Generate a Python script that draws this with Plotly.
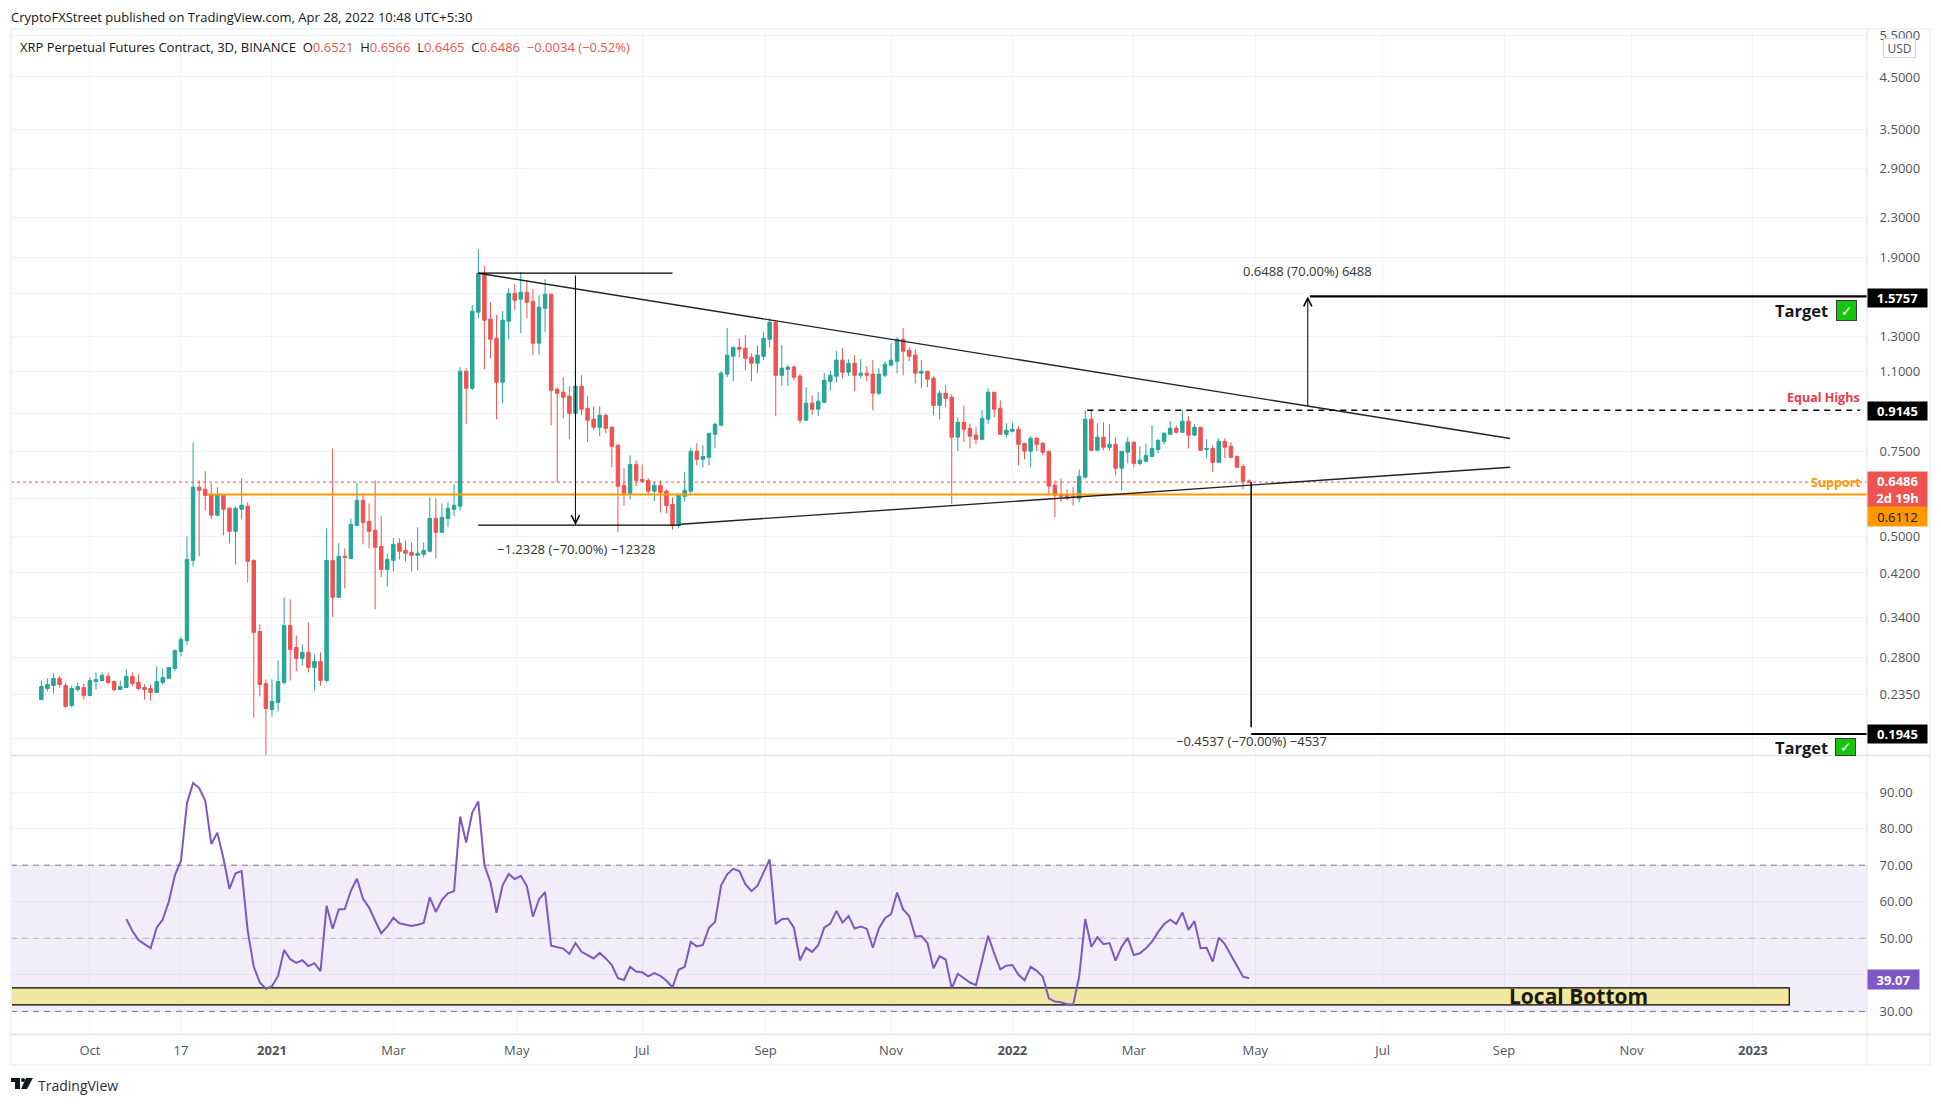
import math
import pandas as pd
import plotly.graph_objects as go

W, H = 1941, 1104
FONT = "Open Sans"

# 3D candles, oldest first
first_bar = "2020-09-08"
opens = [
    .2294,.2418,.2453,.2537,.2453,.2229,.2406,.2429,.2339,.2500,
    .2512,.2562,.2500,.2406,.2429,.2562,.2488,.2429,.2418,.2372,
    .2488,.2537,.2661,.2886,.3042,.4461,.6327,.6266,.6117,.5533,
    .6088,.5722,.5125,.5694,.5778,.4461,.3176,.2476,.2187,.2261,
    .2488,.3268,.2942,.2792,.2872,.2674,.2752,.2512,.4461,.3738,
    .4548,.4504,.5275,.5945,.5375,.515,.4771,.4273,.4461,.4839,
    .468,.4636,.457,.4592,.4658,.5454,.5101,.5454,.5694,.5778,
    1.1019,1.016,1.461,1.761,1.4132,1.2904,1.0455,1.4,1.6,1.555,
    1.608,1.54,1.26,1.489,1.593,1.011,.997,.978,.901,1.026,
    .923,.876,.843,.893,.843,.774,.639,.615,.706,.657,
    .654,.621,.639,.621,.583,.5275,.606,.621,.752,.723,
    .73,.815,.851,1.087,1.184,1.236,1.23,1.178,1.145,1.184,
    1.284,1.393,1.081,1.112,1.124,1.076,.872,.946,.919,.95,
    1.05,1.076,1.162,1.097,1.145,1.081,1.092,1.087,.992,1.081,
    1.134,1.156,1.284,1.218,1.19,1.092,1.102,1.066,.936,.992,
    .973,.804,.863,.839,.812,.796,.876,.997,.923,.815,
    .827,.835,.781,.752,.8,.781,.752,.639,.612,.609,
    .606,.6,.664,.876,.755,.804,.766,.777,.693,.748,
    .785,.709,.716,.733,.758,.788,.815,.839,.823,.868,
    .812,.843,.758,.762,.713,.788,.77,.733,.699,.6521,
]
highs = [
    .2512,.2537,.2599,.2562,.2488,.2453,.2488,.2476,.2549,.2611,
    .2611,.2611,.2512,.2512,.2649,.2611,.2586,.2464,.2464,.2687,
    .2661,.2674,.2914,.31,.5005,.7846,.6542,.683,.6449,.6327,
    .6088,.575,.5778,.6604,.589,.4482,.3283,.2525,.2525,.2765,
    .3738,.3701,.3115,.2984,.3316,.2845,.2872,.52,.7623,.4839,
    .4725,.5454,.648,.6117,.586,.6542,.5506,.4614,.4956,.4956,
    .4909,.4862,.5225,.4862,.6026,.5997,.586,.589,.6416,1.1235,
    1.118,1.512,1.975,1.821,1.533,1.441,1.4684,1.639,1.671,1.77,
    1.703,1.631,1.585,1.711,1.593,1.021,1.071,1.026,1.102,1.081,
    .978,.932,.932,.901,.847,.777,.693,.737,.72,.706,
    .66,.651,.654,.627,.603,.612,.68,.765,.781,.773,
    .819,.863,1.102,1.354,1.236,1.29,1.31,1.201,1.248,1.328,
    1.42,1.4065,1.248,1.134,1.134,1.087,1.021,.982,.997,1.092,
    1.107,1.213,1.23,1.167,1.19,1.167,1.129,1.162,1.118,1.156,
    1.26,1.297,1.354,1.236,1.224,1.162,1.102,1.076,1.006,1.031,
    .987,.884,.936,.859,.843,.9144,1.016,.997,.959,.859,
    .863,.847,.781,.808,.804,.785,.752,.654,.66,.627,
    .633,.689,.9144,.919,.859,.863,.855,.804,.752,.804,
    .788,.77,.781,.851,.796,.823,.868,.851,.9144,.889,
    .855,.843,.796,.773,.8,.8,.785,.737,.706,.6566,
]
lows = [
    .2294,.2384,.2361,.2429,.2208,.2208,.2384,.2294,.2328,.2406,
    .25,.2464,.2384,.2406,.2429,.2441,.2395,.2294,.2283,.2372,
    .2464,.2537,.2624,.2818,.2984,.4335,.4548,.5667,.5428,.5506,
    .5028,.4839,.4375,.5428,.4015,.2105,.2328,.1755,.2114,.2166,
    .2464,.2512,.2624,.27,.2611,.2395,.2453,.2488,.3397,.3738,
    .39,.4482,.525,.4816,.4725,.3529,.4115,.394,.4233,.4482,
    .444,.4233,.4253,.4526,.4636,.4504,.5101,.5225,.5506,.5667,
    .8552,1.0062,1.42,1.1125,1.173,.8759,.9456,1.2842,1.4754,1.321,
    1.42,1.19,1.19,1.328,.851,.648,.88,.796,.88,.894,
    .785,.831,.808,.819,.696,.51,.58,.597,.636,.648,
    .609,.592,.561,.559,.517,.52,.592,.615,.703,.696,
    .703,.762,.851,1.071,1.05,1.178,1.107,1.05,1.092,1.162,
    1.236,.889,1.026,1.026,1.0555,.859,.868,.894,.889,.946,
    1.006,1.045,1.066,1.076,1.001,1.066,1.05,.914,.982,1.071,
    1.134,1.092,1.081,1.156,1.04,1.016,1.021,.894,.876,.928,
    .583,.752,.785,.762,.777,.792,.855,.884,.812,.804,
    .823,.703,.723,.696,.752,.737,.612,.548,.589,.595,
    .58,.589,.66,.752,.752,.755,.755,.67,.624,.709,
    .696,.703,.713,.733,.744,.777,.815,.819,.823,.762,
    .808,.755,.727,.68,.713,.727,.727,.696,.627,.6465,
]
closes = [
    .2441,.2464,.2537,.2464,.2219,.2418,.2441,.2339,.2512,.2525,
    .2574,.2488,.2406,.2441,.2562,.2476,.2418,.2406,.2372,.25,
    .2549,.2674,.29,.3057,.4482,.6327,.6236,.6088,.5533,.6088,
    .5694,.5125,.5722,.5806,.444,.3161,.2464,.2197,.2272,.25,
    .3268,.2914,.2792,.2872,.2674,.2752,.2512,.4461,.3738,.4548,
    .4526,.5299,.5945,.5348,.5125,.4748,.4273,.4482,.4816,.4658,
    .4614,.457,.4614,.468,.5454,.5101,.548,.5722,.5806,1.1019,
    1.016,1.4684,1.761,1.4065,1.2842,1.0455,1.4065,1.6,1.5477,1.608,
    1.533,1.26,1.497,1.593,1.0062,.992,.973,.901,1.026,.919,
    .872,.843,.893,.839,.77,.636,.615,.706,.654,.651,
    .621,.639,.618,.58,.5275,.612,.624,.752,.723,.733,
    .819,.855,1.092,1.19,1.236,1.224,1.173,1.145,1.19,1.29,
    1.393,1.081,1.118,1.124,1.071,.872,.946,.919,.955,1.0555,
    1.081,1.162,1.097,1.145,1.081,1.092,1.081,.992,1.087,1.139,
    1.162,1.284,1.213,1.184,1.092,1.102,1.061,.936,.992,.968,
    .804,.863,.835,.808,.796,.88,.997,.919,.815,.831,
    .835,.777,.752,.8,.777,.748,.636,.609,.606,.6,
    .603,.667,.876,.755,.804,.766,.777,.693,.752,.785,
    .709,.72,.737,.762,.792,.819,.839,.823,.868,.812,
    .843,.755,.762,.713,.788,.766,.73,.696,.651,.6486,
]
# RSI starts on the 15th candle
rsi = [
    55.3,52.0,49.5,48.4,47.3,52.9,55.1,60.0,67.2,71.2,
    87.0,92.5,91.1,87.7,75.8,78.9,71.9,63.5,67.8,68.4,
    52.1,42.2,37.9,36.2,36.9,39.7,46.8,44.3,43.3,44.0,
    42.4,43.2,41.0,58.9,52.6,57.9,58.0,63.0,66.3,60.8,
    58.4,54.8,51.4,53.2,55.6,54.1,53.7,53.4,53.7,54.2,
    61.2,57.2,60.5,62.3,62.9,83.3,76.2,84.4,87.4,70.0,
    65.3,57.0,64.5,67.6,66.2,67.1,64.3,55.9,60.7,62.6,
    48.0,47.7,47.2,45.7,48.7,46.3,45.3,44.5,46.0,44.5,
    42.7,39.1,38.6,42.2,40.9,40.7,39.6,40.5,39.7,38.4,
    36.6,41.4,42.2,49.0,47.8,48.2,52.9,54.5,64.4,67.5,
    69.0,68.4,64.8,62.9,64.4,68.1,71.6,53.9,55.2,55.4,
    52.9,44.0,47.4,46.3,48.1,52.9,54.0,57.5,54.3,56.1,
    52.7,53.2,52.6,47.4,52.7,55.5,56.6,62.5,57.9,56.1,
    50.5,50.6,48.7,41.8,45.1,44.2,36.3,40.3,39.2,37.9,
    37.2,44.1,50.7,45.9,41.5,42.5,42.7,40.0,38.5,42.2,
    41.1,39.5,33.6,32.7,32.5,32.0,31.8,39.5,55.3,47.7,
    50.3,48.4,48.7,43.9,47.7,50.1,45.4,45.9,47.3,49.1,
    51.7,53.9,55.1,53.9,57.1,52.3,54.7,47.3,47.4,43.6,
    50.2,48.4,45.3,42.3,39.5,39.07,
]

price_ticks = [5.5, 4.5, 3.5, 2.9, 2.3, 1.9, 1.6, 1.3, 1.1, 0.9, 0.75, 0.6, 0.5, 0.42, 0.34, 0.28, 0.235, 0.19]
hidden_price_ticks = [1.6, 0.9, 0.6, 0.19]
rsi_ticks = [30, 40, 50, 60, 70, 80, 90]
hidden_rsi_ticks = [40]
date_ticks = ["2020-10-02", "2020-11-16", "2020-12-31", "2021-03-01", "2021-05-01", "2021-07-02", "2021-09-01",
              "2021-11-02", "2022-01-01", "2022-03-02", "2022-05-01", "2022-07-03", "2022-09-01", "2022-11-03", "2023-01-02"]
date_labels = ["Oct", "17", "<b>2021</b>", "Mar", "May", "Jul", "Sep", "Nov", "<b>2022</b>", "Mar", "May", "Jul", "Sep", "Nov", "<b>2023</b>"]

x_left, x_right = "2020-08-24", "2023-02-27 10:00"
last_price = 0.6486
support = 0.6112
equal_highs = 0.9145
target_up = 1.5757
target_down = 0.1945

GREEN, RED, PURPLE, ORANGE = "#26a69a", "#ef5350", "#7e57c2", "#ff9800"
GRID, BORDER, TEXT = "#f0f3fa", "#e0e3eb", "#131722"
AXIS_X = 1867


def px(x):
    return x / W


def py(y):
    return 1 - y / H


bar_dates = pd.date_range(first_bar, periods=len(closes), freq="3D")

fig = go.Figure()
fig.add_trace(go.Candlestick(
    x=bar_dates, open=opens, high=highs, low=lows, close=closes,
    increasing=dict(line=dict(color=GREEN, width=1), fillcolor=GREEN),
    decreasing=dict(line=dict(color=RED, width=1), fillcolor=RED),
    whiskerwidth=0, hoverinfo="skip", showlegend=False,
))


def line(x, y, color="black", width=1.3, dash="solid", yaxis="y"):
    fig.add_trace(go.Scatter(x=x, y=y, mode="lines", yaxis=yaxis, hoverinfo="skip", showlegend=False,
                             line=dict(color=color, width=width, dash=dash)))


line([x_left, x_right], [last_price, last_price], RED, 1, "dot")
line(["2020-11-29", x_right], [support, support], ORANGE, 2)
line(["2021-04-12", "2022-09-04"], [1.761, 0.799], "#222222", 1.4)
line(["2021-07-21", "2022-09-04"], [0.5302, 0.6962], "#222222", 1.4)
line(["2021-04-12", "2021-07-17"], [1.761, 1.761])
line(["2021-04-12", "2021-07-21"], [0.5282, 0.5282])
line(["2022-02-07", "2023-02-24"], [equal_highs, equal_highs], "black", 1.3, "6px,5px")
line(["2022-05-28", x_right], [target_up, target_up], "black", 2.2)
line(["2022-04-29", x_right], [target_down, target_down], "black", 2.2)
line(["2022-04-29", "2022-04-29"], [0.648, 0.2009], "black", 1.5)
line(bar_dates[14:], rsi, PURPLE, 2, yaxis="y2")

shapes = [
    dict(type="rect", xref="x", yref="y2", x0=x_left, x1=x_right, y0=30, y1=70, line_width=0,
         fillcolor="rgba(126,87,194,0.1)", layer="between"),
    dict(type="rect", xref="x", yref="y2", x0=x_left, x1="2023-01-20", y0=31.8, y1=36.45,
         fillcolor="#f3e6a0", line=dict(color="black", width=1.2), layer="between"),
]
for level, c in [(70, "#787b86"), (50, "#b2b5be"), (30, "#787b86")]:
    shapes.append(dict(type="line", xref="x", yref="y2", x0=x_left, x1=x_right, y0=level, y1=level,
                       line=dict(color=c, width=1, dash="6px,5px"), layer="between"))
# chart frame and pane borders
shapes.append(dict(type="rect", xref="paper", yref="paper", x0=px(11), x1=px(1930), y0=py(29), y1=py(1065),
                   line=dict(color=GRID, width=2), layer="above"))
for y in (755.5, 1034.6):
    shapes.append(dict(type="line", xref="paper", yref="paper", x0=px(11), x1=px(1930), y0=py(y), y1=py(y),
                       line=dict(color=BORDER, width=1.5), layer="above"))
shapes.append(dict(type="line", xref="paper", yref="paper", x0=px(AXIS_X), x1=px(AXIS_X), y0=py(30), y1=py(1065),
                   line=dict(color=BORDER, width=1), layer="above"))
# logo
shapes.append(dict(type="path", xref="paper", yref="paper", line_width=0, fillcolor="#131722", path=(
    f"M{px(11)},{py(1078)} L{px(20)},{py(1078)} L{px(20)},{py(1089)} L{px(15)},{py(1089)} L{px(15)},{py(1082)} L{px(11)},{py(1082)} Z "
    f"M{px(26)},{py(1078)} L{px(33)},{py(1078)} L{px(27)},{py(1089)} L{px(21)},{py(1089)} Z")))
shapes.append(dict(type="circle", xref="paper", yref="paper", line_width=0, fillcolor="#131722",
                   x0=px(21), x1=px(25), y0=py(1078), y1=py(1082)))

anns = []


def text(x, y, s, size=13, color=TEXT, anchor="left", bg=None, family=FONT):
    anns.append(dict(xref="paper", yref="paper", x=px(x), y=py(y), text=s, showarrow=False, xanchor=anchor,
                     yanchor="middle", font=dict(family=family, size=size, color=color), bgcolor=bg,
                     borderpad=0))


def badge(y, h, s, bg, fg="white", w=59, bold=True):
    anns.append(dict(xref="paper", yref="paper", x=px(AXIS_X), y=py(y), text=f"<b>{s}</b>" if bold else s, showarrow=False,
                     xanchor="left", yanchor="middle", width=w, height=h, align="center", valign="middle",
                     bgcolor=bg, borderpad=0, font=dict(family=FONT, size=13, color=fg)))


def check(x, y, h):
    anns.append(dict(xref="paper", yref="paper", x=px(x), y=py(y), text="<b>✓</b>", showarrow=False, xanchor="left",
                     yanchor="middle", width=19, height=h, align="center", valign="middle", bgcolor="#16c60c",
                     bordercolor="#3a3a3a", borderwidth=1, borderpad=0,
                     font=dict(family="DejaVu Sans", size=14, color="white")))


text(10, 17, "CryptoFXStreet published on TradingView.com, Apr 28, 2022 10:48 UTC+5:30", 13)
v = 'style="color:#ef5350"'
text(19, 47, f'XRP Perpetual Futures Contract, 3D, BINANCE  O<span {v}>0.6521</span>  H<span {v}>0.6566</span>  '
             f'L<span {v}>0.6465</span>  C<span {v}>0.6486</span>  <span {v}>−0.0034 (−0.52%)</span>', 13)
text(37, 1085, "TradingView", 14, "#2a2e39")
text(576, 549, "−1.2328 (−70.00%) −12328", 13, "#333333", "center", "white")
text(1307, 271, "0.6488 (70.00%) 6488", 13, "#333333", "center", "white")
text(1251, 741, "−0.4537 (−70.00%) −4537", 13, "#333333", "center")
text(1829, 310, "<b>Target</b>", 16.5, "#131722", "right")
text(1829, 747, "<b>Target</b>", 16.5, "#131722", "right")
check(1836, 310.5, 19)
check(1835, 747, 16)
text(1861, 398, "<b>Equal Highs</b>", 12.5, "#f23645", "right")
text(1862, 482, "<b>Support</b>", 12.5, ORANGE, "right")
text(1578, 996, "<b>Local Bottom</b>", 21, "#1a1a0a", "center")

badge(298.5, 18, "1.5757", "black")
badge(411, 18, "0.9145", "black")
badge(489.5, 35, "0.6486<br>2d 19h", RED)
badge(516.5, 19, "0.6112", ORANGE, "#131722", bold=False)
badge(733.5, 18, "0.1945", "black")
badge(979, 19, "39.07", PURPLE, w=51)

anns.append(dict(xref="paper", yref="paper", x=px(1899), y=py(47.5), text="USD", showarrow=False, xanchor="center",
                 yanchor="middle", width=31, height=18, align="center", valign="middle", bgcolor="white",
                 bordercolor="#d1d4dc", borderwidth=1, borderpad=0, font=dict(family=FONT, size=12, color="#50535e")))

# measure arrows
anns.append(dict(x="2021-05-30", y=math.log10(0.5282), xref="x", yref="y", ax=0, ay=-251, text="", arrowhead=5,
                 arrowsize=1.6, arrowwidth=1, arrowcolor="black", standoff=0))
anns.append(dict(x="2022-05-27", y=math.log10(target_up), xref="x", yref="y", ax=0, ay=111, text="", arrowhead=5,
                 arrowsize=1.6, arrowwidth=1, arrowcolor="black", standoff=0))

tick_font = dict(family=FONT, size=13, color="#50535e")
fig.update_layout(
    width=W, height=H, margin=dict(l=0, r=0, t=0, b=0, autoexpand=False), paper_bgcolor="white", plot_bgcolor="white",
    showlegend=False, boxgap=0.18, hovermode=False, shapes=shapes, annotations=anns,
    font=dict(family=FONT),
    xaxis=dict(domain=[px(11), px(AXIS_X)], anchor="y2", type="date", range=[x_left, x_right], tickmode="array",
               tickvals=date_ticks, ticktext=date_labels, showgrid=True, gridcolor=GRID, gridwidth=1,
               tickfont=tick_font, ticks="outside", ticklen=4, tickcolor="rgba(0,0,0,0)", rangeslider=dict(visible=False),
               zeroline=False, showline=False),
    yaxis=dict(domain=[py(755.5), py(30)], type="log", range=[math.log10(0.1755), math.log10(5.633)], side="right",
               anchor="x", tickmode="array", tickvals=price_ticks,
               ticktext=["" if t in hidden_price_ticks else f"{t:.4f}" for t in price_ticks],
               showgrid=True, gridcolor=GRID, tickfont=tick_font, ticks="outside", ticklen=9,
               tickcolor="rgba(0,0,0,0)", zeroline=False, showline=False),
    yaxis2=dict(domain=[py(1034.6), py(755.5)], range=[23.66, 100], side="right", anchor="x", tickmode="array",
                tickvals=rsi_ticks, ticktext=["" if t in hidden_rsi_ticks else f"{t:.2f}" for t in rsi_ticks],
                showgrid=True, gridcolor=GRID, tickfont=tick_font, ticks="outside", ticklen=9,
                tickcolor="rgba(0,0,0,0)", zeroline=False, showline=False),
)

fig.write_html("out.html", config={"displayModeBar": False}, post_script="document.body.style.margin='0';")
